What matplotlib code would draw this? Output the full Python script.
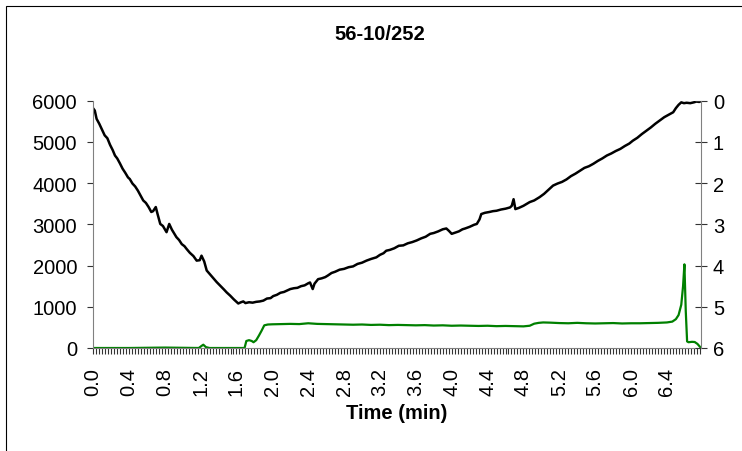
"""
色谱图: 56-10/252
"""
import matplotlib
matplotlib.use("Agg")
import matplotlib.pyplot as plt
from matplotlib.patches import Rectangle
from matplotlib.ticker import MultipleLocator, FormatStrFormatter

plt.rcParams['font.family'] = ['Liberation Sans', 'DejaVu Sans']

title = "56-10/252"
xlabel = "Time (min)"

# 黑线 (左轴)
black_t = [0.00, 0.02, 0.04, 0.07, 0.10, 0.13, 0.16, 0.19, 0.22, 0.245,
           0.27, 0.30, 0.33, 0.36, 0.39, 0.41, 0.44, 0.47, 0.50, 0.53,
           0.56, 0.59, 0.62, 0.65, 0.67, 0.70, 0.72, 0.75, 0.78, 0.82,
           0.85, 0.88, 0.91, 0.93, 0.96, 0.99, 1.02, 1.045, 1.08, 1.12,
           1.156, 1.19, 1.21, 1.24, 1.268, 1.30, 1.34, 1.379, 1.42, 1.46,
           1.49, 1.53, 1.57, 1.60, 1.62, 1.65, 1.676, 1.70, 1.74, 1.78,
           1.82, 1.86, 1.90, 1.94, 1.98, 2.01, 2.05, 2.09, 2.13, 2.17,
           2.20, 2.24, 2.28, 2.32, 2.36, 2.40, 2.42, 2.45, 2.47, 2.51,
           2.55, 2.59, 2.62, 2.66, 2.70, 2.75, 2.80, 2.85, 2.90, 2.95,
           3.00, 3.05, 3.10, 3.16, 3.20, 3.24, 3.27, 3.31, 3.36, 3.41,
           3.46, 3.51, 3.56, 3.61, 3.66, 3.71, 3.76, 3.80, 3.85, 3.90,
           3.94, 3.97, 4.00, 4.04, 4.08, 4.12, 4.15, 4.20, 4.25, 4.28,
           4.31, 4.33, 4.37, 4.42, 4.46, 4.50, 4.55, 4.60, 4.65, 4.67,
           4.69, 4.71, 4.75, 4.80, 4.84, 4.87, 4.92, 4.98, 5.03, 5.09,
           5.13, 5.18, 5.23, 5.28, 5.33, 5.38, 5.43, 5.48, 5.53, 5.58,
           5.63, 5.68, 5.73, 5.78, 5.83, 5.88, 5.93, 5.98, 6.02, 6.07,
           6.12, 6.17, 6.22, 6.27, 6.32, 6.37, 6.42, 6.47, 6.50, 6.53,
           6.56, 6.59, 6.62, 6.66, 6.70, 6.73, 6.76, 6.78]
black_v = [5820, 5760, 5560, 5440, 5300, 5160, 5090, 4930, 4800, 4670,
           4600, 4480, 4350, 4250, 4140, 4100, 3990, 3920, 3820, 3700,
           3580, 3520, 3420, 3300, 3320, 3420, 3250, 3010, 2960, 2810,
           3010, 2870, 2760, 2690, 2620, 2520, 2470, 2400, 2310, 2230,
           2120, 2130, 2240, 2100, 1880, 1800, 1700, 1600, 1510, 1420,
           1350, 1270, 1180, 1120, 1080, 1110, 1130, 1090, 1110, 1100,
           1120, 1130, 1150, 1200, 1210, 1260, 1290, 1340, 1360, 1400,
           1430, 1450, 1460, 1500, 1520, 1570, 1590, 1430, 1560, 1670,
           1690, 1720, 1760, 1820, 1850, 1900, 1920, 1960, 1980, 2040,
           2070, 2120, 2160, 2200, 2260, 2300, 2360, 2380, 2420, 2480,
           2490, 2540, 2570, 2610, 2660, 2700, 2770, 2790, 2830, 2880,
           2900, 2840, 2770, 2800, 2830, 2880, 2900, 2940, 2990, 3010,
           3120, 3250, 3280, 3300, 3320, 3330, 3360, 3380, 3410, 3450,
           3610, 3370, 3400, 3450, 3500, 3540, 3580, 3660, 3740, 3860,
           3940, 3990, 4030, 4090, 4170, 4230, 4300, 4370, 4410, 4470,
           4540, 4600, 4670, 4720, 4780, 4830, 4900, 4960, 5030, 5100,
           5190, 5270, 5350, 5440, 5520, 5600, 5660, 5720, 5820, 5900,
           5960, 5940, 5950, 5940, 5960, 5980, 5970, 5990]

# 绿线 (左轴)
green_t = [0.00, 0.40, 0.80, 1.18, 1.21, 1.23, 1.26, 1.30, 1.69, 1.71,
           1.74, 1.77, 1.79, 1.82, 1.85, 1.88, 1.91, 1.95, 2.00, 2.10,
           2.20, 2.30, 2.40, 2.50, 2.60, 2.70, 2.80, 2.90, 3.00, 3.10,
           3.20, 3.30, 3.40, 3.50, 3.60, 3.70, 3.80, 3.90, 4.00, 4.10,
           4.20, 4.30, 4.40, 4.50, 4.60, 4.70, 4.80, 4.87, 4.92, 4.97,
           5.02, 5.10, 5.20, 5.30, 5.40, 5.50, 5.60, 5.70, 5.80, 5.90,
           6.00, 6.10, 6.20, 6.30, 6.40, 6.46, 6.50, 6.53, 6.56, 6.58,
           6.595, 6.61, 6.625, 6.64, 6.68, 6.71, 6.74, 6.78]
green_v = [0, 0, 10, 0, 50, 80, 20, 0, 0, 170,
           190, 170, 140, 190, 300, 420, 550, 570, 575, 580,
           585, 580, 600, 585, 580, 575, 570, 565, 570, 560,
           565, 555, 560, 555, 550, 555, 545, 550, 540, 545,
           540, 535, 540, 530, 535, 530, 525, 540, 590, 610,
           620, 615, 605, 600, 610, 600, 595, 600, 605, 595,
           600, 600, 605, 610, 620, 640, 700, 800, 1050, 1500,
           2030, 900, 160, 140, 150, 145, 100, 0]

left_ticks = [0, 1000, 2000, 3000, 4000, 5000, 6000]
right_ticks = [0, 1, 2, 3, 4, 5, 6]

fs = 14.5
W, H = 742, 452
fig = plt.figure(figsize=(W / 100, H / 100), dpi=100)
ax = fig.add_axes([93 / W, 1 - 349 / H, (701 - 93) / W, (349 - 101.7) / H])

ax.plot(black_t, black_v, color='black', lw=1.8)
ax.plot(green_t, green_v, color='#008000', lw=1.6)

ax.set_xlim(0, 6.78)
ax.set_ylim(0, 6000)
ax.set_yticks(left_ticks)
ax.xaxis.set_major_locator(MultipleLocator(0.4))
ax.xaxis.set_minor_locator(MultipleLocator(0.4 / 12))
ax.xaxis.set_major_formatter(FormatStrFormatter('%.1f'))
ax.tick_params(axis='x', which='both', direction='out', length=4.5, width=0.8,
               color='#333333', labelsize=fs, labelrotation=90, pad=9)
ax.tick_params(axis='y', direction='out', length=4.5, width=0.8,
               color='#333333', labelsize=fs, pad=7)
for s in ('top', 'right'):
    ax.spines[s].set_visible(False)
ax.spines['left'].set_color('#808080')
ax.spines['bottom'].set_color('#808080')
ax.set_xlabel(xlabel, fontsize=fs, fontweight='bold', labelpad=6)

# 右侧倒置刻度
ax2 = ax.twinx()
ax2.set_ylim(6, 0)
ax2.set_yticks(right_ticks)
ax2.tick_params(axis='y', direction='inout', length=9, width=0.8,
                color='#333333', labelsize=fs, pad=4)
for s in ('top', 'left', 'bottom'):
    ax2.spines[s].set_visible(False)
ax2.spines['right'].set_color('#808080')

fig.text(380 / W, 1 - 35 / H, title, ha='center', va='center',
         fontsize=fs, fontweight='bold')

# 外框
fig.patches.append(Rectangle((6 / W, -0.1), 1.2, 1 - 7 / H + 0.1,
                             transform=fig.transFigure, fill=False,
                             edgecolor='black', lw=0.8))

fig.savefig('out.png', dpi=100)
